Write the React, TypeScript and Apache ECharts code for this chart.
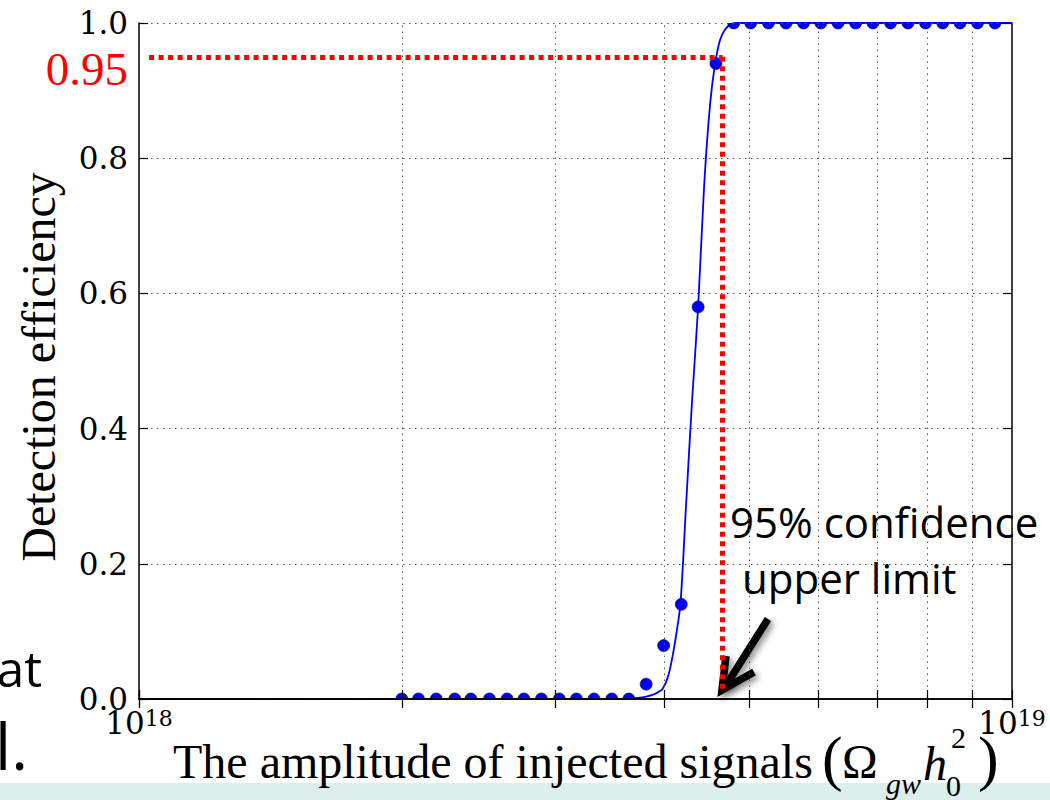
import React, { useEffect, useRef } from "react";
import * as echarts from "echarts";

// Injected signal amplitudes (Omega_gw h0^2) and the measured detection efficiency
const amplitudes = [
  2.0e18, 2.09e18, 2.19e18, 2.3e18, 2.4e18, 2.52e18, 2.64e18, 2.76e18, 2.89e18,
  3.03e18, 3.17e18, 3.32e18, 3.48e18, 3.64e18, 3.81e18, 3.99e18, 4.18e18, 4.37e18,
  4.58e18, 4.8e18, 5.02e18, 5.26e18, 5.51e18, 5.77e18, 6.04e18, 6.32e18, 6.62e18,
  6.93e18, 7.26e18, 7.6e18, 7.96e18, 8.33e18, 8.72e18, 9.13e18, 9.56e18,
];
const efficiency = [
  0, 0, 0, 0, 0, 0, 0, 0, 0, 0, 0, 0, 0, 0,
  0.022, 0.079, 0.14, 0.58, 0.94,
  1, 1, 1, 1, 1, 1, 1, 1, 1, 1, 1, 1, 1, 1, 1, 1,
];

// Fitted efficiency curve
const fitAmplitudes = [
  1.0e18, 3.6e18, 3.75e18, 3.85e18, 3.92e18, 3.98e18, 4.04e18, 4.1e18, 4.17e18,
  4.23e18, 4.3e18, 4.37e18, 4.44e18, 4.51e18, 4.57e18, 4.63e18, 4.69e18, 4.76e18,
  4.85e18, 1.0e19,
];
const fitEfficiency = [
  0, 0, 0.002, 0.005, 0.009, 0.015, 0.035, 0.075, 0.14, 0.28, 0.44, 0.58, 0.76,
  0.88, 0.94, 0.975, 0.99, 0.998, 1.0, 1.0,
];

// Axis extents and grid positions
const xMin = 1e18;
const xMax = 1e19;
const yMin = 0;
const yMax = 1;
const yStep = 0.2;
const minorGridAmplitudes = [2e18, 3e18, 4e18, 5e18, 6e18, 7e18, 8e18, 9e18];

// 95% confidence upper limit
const confidenceLevel = 0.95;
const confidenceLabel = "0.95";
const upperLimit = 4.66e18;
const guideStart = 1.027e18;
const guideEnd = 0.01;

const SERIF = '"Liberation Serif", "Times New Roman", serif';
const TICK_FONT = '"DejaVu Serif", serif';
const SANS = '"Open Sans", "Noto Sans", sans-serif';

const gridDots = { color: "#555", width: 1, type: [1.5, 4.5] as number[] };

export default function App() {
  const ref = useRef<HTMLDivElement>(null);

  useEffect(() => {
    if (!ref.current) return;
    const chart = echarts.init(ref.current, null, { renderer: "svg" });

    const frameLine = { show: true, lineStyle: { color: "#000", width: 1.5 } };
    const innerTick = { show: true, inside: true, length: 9, lineStyle: { color: "#000", width: 1.2 } };
    const minorInnerTick = { show: true, splitNumber: 9, length: 9, lineStyle: { color: "#000", width: 1.2 } };
    const shadow = { shadowBlur: 6, shadowColor: "rgba(0,0,0,0.45)", shadowOffsetX: 3, shadowOffsetY: 3 };

    const option: any = {
      animation: false,
      backgroundColor: "#fff",
      grid: { left: 139, top: 23, right: 38, bottom: 101, containLabel: false },
      xAxis: [
        {
          type: "log",
          logBase: 10,
          min: xMin,
          max: xMax,
          position: "bottom",
          z: 10,
          axisLine: frameLine,
          axisTick: innerTick,
          minorTick: minorInnerTick,
          splitLine: { show: false },
          axisLabel: {
            margin: 8,
            formatter: (v: number) => `{base|10}{exp|${Math.round(Math.log10(v))}}`,
            rich: {
              base: { fontFamily: TICK_FONT, fontSize: 31, lineHeight: 31, color: "#000", padding: [10, 0, 0, 0], verticalAlign: "bottom" },
              exp: { fontFamily: TICK_FONT, fontSize: 22, lineHeight: 22, color: "#000", verticalAlign: "top" },
            },
          },
        },
        {
          type: "log",
          logBase: 10,
          min: xMin,
          max: xMax,
          position: "top",
          z: 10,
          axisLine: frameLine,
          axisTick: innerTick,
          minorTick: minorInnerTick,
          splitLine: { show: false },
          axisLabel: { show: false },
        },
      ],
      yAxis: [
        {
          type: "value",
          min: yMin,
          max: yMax,
          interval: yStep,
          position: "left",
          z: 10,
          axisLine: frameLine,
          axisTick: innerTick,
          splitLine: { show: true, lineStyle: gridDots },
          axisLabel: {
            margin: 11,
            color: "#000",
            fontFamily: TICK_FONT,
            fontSize: 31,
            formatter: (v: number) => v.toFixed(1),
          },
        },
        {
          type: "value",
          min: yMin,
          max: yMax,
          interval: yStep,
          position: "right",
          z: 10,
          axisLine: frameLine,
          axisTick: innerTick,
          splitLine: { show: false },
          axisLabel: { show: false },
        },
      ],
      series: [
        {
          // vertical dotted grid at the 2..9 x 10^18 positions
          type: "line",
          data: [],
          silent: true,
          markLine: {
            silent: true,
            symbol: ["none", "none"],
            label: { show: false },
            lineStyle: gridDots,
            data: minorGridAmplitudes.map((v) => ({ xAxis: v })),
          },
        },
        {
          type: "line",
          name: "fit",
          data: fitAmplitudes.map((x, i) => [x, fitEfficiency[i]]),
          showSymbol: false,
          smooth: 0.25,
          clip: true,
          z: 3,
          lineStyle: { color: "#0000ff", width: 1.8 },
          markLine: {
            silent: true,
            symbol: ["none", "none"],
            label: { show: false },
            lineStyle: { color: "#ff0000", width: 5, type: [5, 4.5] },
            data: [
              [{ coord: [guideStart, confidenceLevel] }, { coord: [upperLimit, confidenceLevel] }],
              [{ coord: [upperLimit, confidenceLevel] }, { coord: [upperLimit, guideEnd] }],
            ],
          },
        },
        {
          type: "custom",
          name: "efficiency",
          data: amplitudes.map((x, i) => [x, efficiency[i]]),
          encode: { x: 0, y: 1 },
          clip: true,
          z: 4,
          renderItem: (_params: any, api: any) => {
            const p = api.coord([api.value(0), api.value(1)]);
            return {
              type: "circle",
              shape: { cx: p[0], cy: p[1], r: 6 },
              style: { fill: "#0000ff", stroke: "#000033", lineWidth: 0.6 },
            };
          },
        },
      ],
      graphic: [
        // light strip along the bottom edge
        { type: "rect", x: 0, y: 783, z: 0, shape: { width: 1050, height: 17 }, style: { fill: "#ddefeb" } },
        // fragments of text at the left edge
        { type: "text", x: 42, y: 668, z: 5, style: { text: "at", font: `50px ${SANS}`, fill: "#000", align: "right", verticalAlign: "middle" } },
        { type: "text", x: -5, y: 745, z: 5, style: { text: "l.", font: `64px ${SANS}`, fill: "#000", align: "left", verticalAlign: "middle" } },
        // confidence level label
        { type: "text", x: 128, y: 69, z: 5, style: { text: confidenceLabel, font: `47px ${SERIF}`, fill: "#ff0000", align: "right", verticalAlign: "middle" } },
        // y-axis title
        { type: "text", x: 38, y: 367, rotation: Math.PI / 2, z: 5, style: { text: "Detection efficiency", font: `48px ${SERIF}`, fill: "#000", align: "center", verticalAlign: "middle" } },
        // x-axis title with the Omega_gw h_0^2 expression
        { type: "text", x: 173, y: 761, z: 5, style: { text: "The amplitude of injected signals", font: `48px ${SERIF}`, fill: "#000", align: "left", verticalAlign: "middle" } },
        { type: "text", x: 822, y: 758, z: 5, style: { text: "(", font: `62px ${SERIF}`, fill: "#000", align: "left", verticalAlign: "middle" } },
        { type: "text", x: 842, y: 761, z: 5, style: { text: "Ω", font: `48px ${SERIF}`, fill: "#000", align: "left", verticalAlign: "middle" } },
        { type: "text", x: 886, y: 783, z: 5, style: { text: "gw", font: `italic 30px ${SERIF}`, fill: "#000", align: "left", verticalAlign: "middle" } },
        { type: "text", x: 923, y: 763, z: 5, style: { text: "h", font: `italic 48px ${SERIF}`, fill: "#000", align: "left", verticalAlign: "middle" } },
        { type: "text", x: 946, y: 785, z: 5, style: { text: "0", font: `30px ${SERIF}`, fill: "#000", align: "left", verticalAlign: "middle" } },
        { type: "text", x: 951, y: 737, z: 5, style: { text: "2", font: `30px ${SERIF}`, fill: "#000", align: "left", verticalAlign: "middle" } },
        { type: "text", x: 978, y: 758, z: 5, style: { text: ")", font: `62px ${SERIF}`, fill: "#000", align: "left", verticalAlign: "middle" } },
        // annotation for the upper limit
        { type: "text", x: 730, y: 521, z: 5, style: { text: "95% confidence", font: `42px ${SANS}`, fill: "#000", align: "left", verticalAlign: "middle" } },
        { type: "text", x: 742, y: 577, z: 5, style: { text: "upper limit", font: `42px ${SANS}`, fill: "#000", align: "left", verticalAlign: "middle" } },
        {
          type: "group",
          z: 6,
          children: [
            {
              type: "line",
              shape: { x1: 768, y1: 619, x2: 725, y2: 687 },
              style: { stroke: "#000", lineWidth: 7.5, ...shadow },
            },
            {
              type: "polyline",
              shape: { points: [[726, 656], [722, 690], [754, 672]] },
              style: { stroke: "#000", fill: "none", lineWidth: 7.5, lineJoin: "miter", ...shadow },
            },
          ],
        },
      ],
    };

    chart.setOption(option);
    return () => chart.dispose();
  }, []);

  return (
    <div
      ref={ref}
      style={{ position: "absolute", left: 0, top: 0, width: 1050, height: 800, background: "#fff" }}
    />
  );
}
